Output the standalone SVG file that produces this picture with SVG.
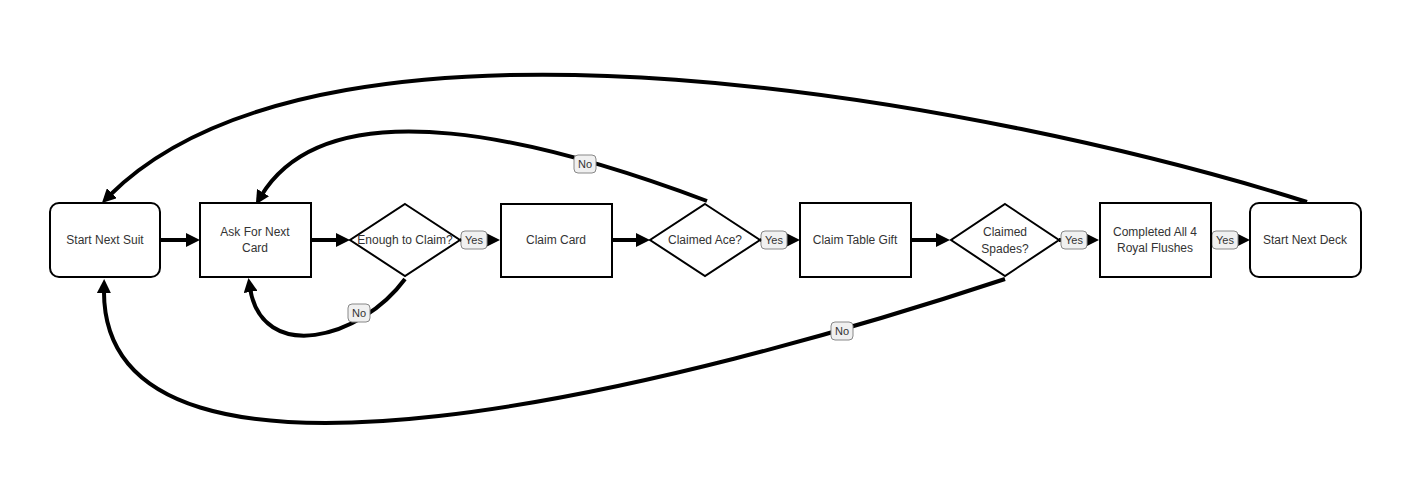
<svg xmlns="http://www.w3.org/2000/svg" width="1410" height="478" viewBox="0 0 1410 478">
<style>
.box{fill:#fff;stroke:#000;stroke-width:2}
.t{font-family:"Liberation Sans",Arial,sans-serif;font-size:12px;fill:#333;text-anchor:middle}
.e{fill:none;stroke:#000;stroke-width:4}
.lb{fill:#f0f0f0;stroke:#888;stroke-width:1}
.lt{font-family:"Liberation Sans",Arial,sans-serif;font-size:11px;fill:#333;text-anchor:middle}
</style>
<defs>
<marker id="ah" markerUnits="userSpaceOnUse" markerWidth="14" markerHeight="14" refX="4" refY="7" orient="auto" viewBox="0 0 14 14">
<path d="M0,0 L14,7 L0,14 z" fill="#000"/>
</marker>
</defs>
<rect width="1410" height="478" fill="#fff"/>
<g id="connectors">
<path class="e" d="M160,240 L190,240" marker-end="url(#ah)"/>
<path class="e" d="M311,240 L340,240" marker-end="url(#ah)"/>
<path class="e" d="M460,240 L490,240" marker-end="url(#ah)"/>
<path class="e" d="M612,240 L640,240" marker-end="url(#ah)"/>
<path class="e" d="M760,240 L790,240" marker-end="url(#ah)"/>
<path class="e" d="M911,240 L940,240" marker-end="url(#ah)"/>
<path class="e" d="M1059,240 L1089,240" marker-end="url(#ah)"/>
<path class="e" d="M1211,240 L1240,240" marker-end="url(#ah)"/>
<path class="e" d="M1307,202 C1000,105 330,-25 109,196" marker-end="url(#ah)"/>
<path class="e" d="M707,201 C550,142 330,82 261,196" marker-end="url(#ah)"/>
<path class="e" d="M405,279 C360,340 262,364 250,288" marker-end="url(#ah)"/>
<path class="e" d="M1005,279 C700,380 100,540 104,289" marker-end="url(#ah)"/>
<g id="label-yes1"><rect class="lb" x="461" y="231" width="26" height="18" rx="4"/><text class="lt" x="474" y="244">Yes</text></g>
<g id="label-yes2"><rect class="lb" x="761" y="231" width="26" height="18" rx="4"/><text class="lt" x="774" y="244">Yes</text></g>
<g id="label-yes3"><rect class="lb" x="1061" y="231" width="26" height="18" rx="4"/><text class="lt" x="1074" y="244">Yes</text></g>
<g id="label-yes4"><rect class="lb" x="1212" y="231" width="26" height="18" rx="4"/><text class="lt" x="1225" y="244">Yes</text></g>
<g id="label-no1"><rect class="lb" x="574" y="155" width="22" height="18" rx="4"/><text class="lt" x="585" y="168">No</text></g>
<g id="label-no2"><rect class="lb" x="348" y="304" width="22" height="18" rx="4"/><text class="lt" x="359" y="317">No</text></g>
<g id="label-no3"><rect class="lb" x="831" y="322" width="22" height="18" rx="4"/><text class="lt" x="842" y="335">No</text></g>
</g>
<g id="start-suit"><rect class="box" x="50" y="203" width="110" height="74" rx="9"/><text class="t" x="105" y="244">Start Next Suit</text></g>
<g id="ask-card"><rect class="box" x="200" y="203" width="111" height="74"/><text class="t" x="255" y="236">Ask For Next</text><text class="t" x="255" y="252">Card</text></g>
<g id="enough"><path class="box" d="M405,204 L460,240 L405,276 L350,240 z"/><text class="t" x="405" y="244">Enough to Claim?</text></g>
<g id="claim-card"><rect class="box" x="501" y="204" width="111" height="73"/><text class="t" x="556" y="244">Claim Card</text></g>
<g id="claimed-ace"><path class="box" d="M705,204 L760,240 L705,276 L650,240 z"/><text class="t" x="705" y="244">Claimed Ace?</text></g>
<g id="claim-gift"><rect class="box" x="800" y="203" width="111" height="74"/><text class="t" x="855" y="244">Claim Table Gift</text></g>
<g id="claimed-spades"><path class="box" d="M1005,204 L1059,240 L1005,276 L951,240 z"/><text class="t" x="1005" y="236">Claimed</text><text class="t" x="1005" y="253">Spades?</text></g>
<g id="completed"><rect class="box" x="1100" y="203" width="111" height="74"/><text class="t" x="1155" y="236">Completed All 4</text><text class="t" x="1155" y="252">Royal Flushes</text></g>
<g id="start-deck"><rect class="box" x="1250" y="203" width="111" height="74" rx="9"/><text class="t" x="1305" y="244">Start Next Deck</text></g>
</svg>
